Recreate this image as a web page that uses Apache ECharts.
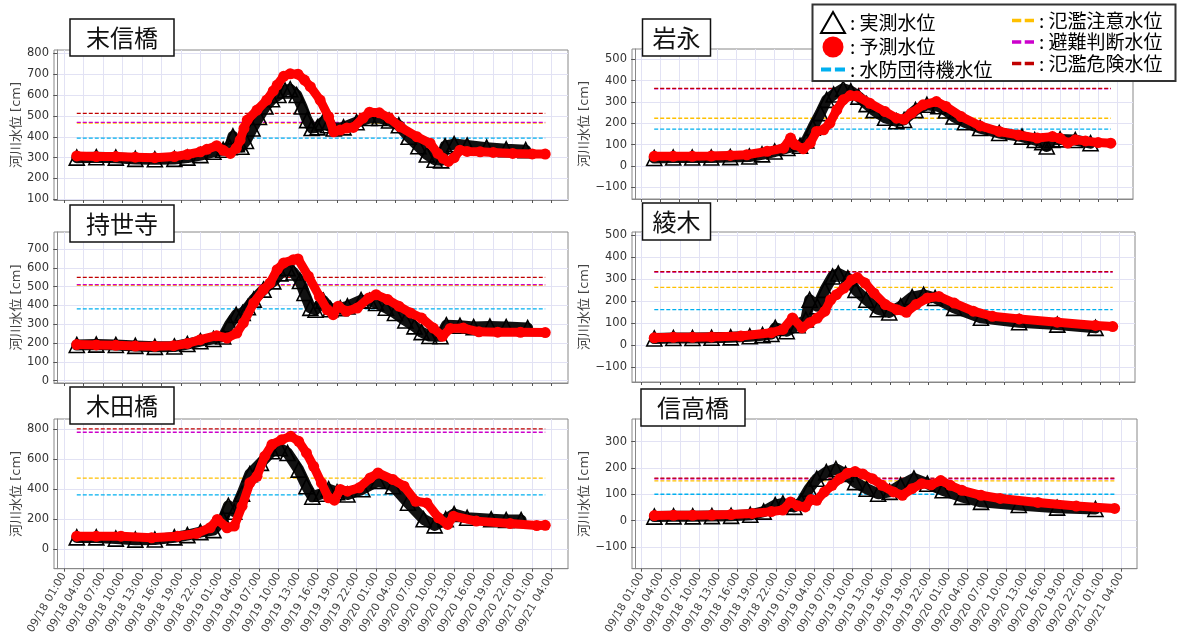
<!DOCTYPE html>
<html>
<head>
<meta charset="utf-8">
<title>河川水位</title>
<script src="https://cdn.jsdelivr.net/npm/echarts@6.0.0/dist/echarts.min.js"></script>
<style>
html, body { margin: 0; padding: 0; background: #fff; }
#chart { width: 1177px; height: 637px; }
</style>
</head>
<body>
<div id="chart"></div>
<script>
// 観測所
var stations = ['末信橋', '岩永', '持世寺', '綾木', '木田橋', '信高橋'];

// 横軸: 09/18 00:00 からの経過時間 [h]
var tickHours = [1, 4, 7, 10, 13, 16, 19, 22, 25, 28, 31, 34, 37, 40, 43, 46, 49, 52, 55, 58, 61, 64, 67, 70, 73, 76];
var tickLabels = [
    '09/18 01:00', '09/18 04:00', '09/18 07:00', '09/18 10:00', '09/18 13:00', '09/18 16:00', '09/18 19:00', '09/18 22:00',
    '09/19 01:00', '09/19 04:00', '09/19 07:00', '09/19 10:00', '09/19 13:00', '09/19 16:00', '09/19 19:00', '09/19 22:00',
    '09/20 01:00', '09/20 04:00', '09/20 07:00', '09/20 10:00', '09/20 13:00', '09/20 16:00', '09/20 19:00', '09/20 22:00',
    '09/21 01:00', '09/21 04:00'
];

var levelNames = ['水防団待機水位', '氾濫注意水位', '避難判断水位', '氾濫危険水位'];

// 末信橋
var suenobuObs = [[3, 300], [6, 302], [9, 300], [12, 294], [15, 292], [18, 294], [20, 300], [22, 312], [24, 328], [25.5, 338], [26.5, 350], [27, 402], [27.6, 365], [28.3, 352], [29, 380], [30, 440], [31, 495], [32, 545], [33, 580], [34, 600], [35, 622], [35.8, 628], [36.8, 600], [37.6, 545], [38.4, 480], [39.1, 442], [40, 445], [40.8, 470], [41.6, 455], [42.5, 440], [44, 445], [46, 470], [48, 490], [49.5, 490], [51, 478], [52.5, 455], [54, 400], [55.5, 355], [56.8, 315], [58, 290], [59, 287], [59.6, 355], [61, 365], [63, 358], [66, 348], [69, 340], [72, 336]];
var suenobuPred = [[3, 308], [6, 305], [9, 305], [12, 302], [15, 300], [18, 305], [20, 315], [22, 328], [23, 340], [24.5, 357], [25.5, 335], [26.6, 320], [27.5, 345], [28.1, 384], [28.7, 440], [29.2, 480], [30.7, 528], [32.2, 576], [33.2, 620], [33.8, 648], [34.8, 690], [35.8, 702], [37, 700], [38, 672], [38.9, 640], [40.4, 576], [41.7, 496], [42.5, 424], [43.5, 432], [44.5, 442], [45.5, 445], [47, 490], [48, 518], [49.5, 515], [51, 490], [52.7, 448], [55.3, 400], [57.3, 369], [58.5, 320], [59.3, 297], [60.1, 282], [61, 300], [61.9, 336], [63, 330], [65, 328], [67, 325], [70, 320], [73, 318], [75, 317]];
var suenobuLevels = [394, 466, 469, 512];
var suenobuTicks = [100, 200, 300, 400, 500, 600, 700, 800];

// 岩永
var iwanagaObs = [[3, 38], [6, 40], [9, 40], [12, 40], [15, 42], [18, 45], [20, 55], [22, 68], [24, 85], [26, 95], [27, 120], [28, 180], [29.2, 248], [30.2, 310], [31.3, 335], [32.8, 362], [34, 350], [35.2, 325], [36.5, 290], [37.6, 262], [39.4, 226], [41.2, 210], [42.4, 216], [44.2, 262], [46, 287], [47.8, 280], [49, 260], [50.2, 232], [52, 205], [54.4, 178], [57.4, 155], [61, 138], [63, 122], [64.2, 112], [64.9, 92], [65.8, 122], [67, 125], [69.4, 122], [71.8, 107]];
var iwanagaPred = [[3, 46], [6, 46], [9, 46], [12, 47], [15, 50], [17.6, 53], [20.8, 69], [23.4, 84], [24.5, 131], [25.2, 100], [26.5, 81], [27.6, 107], [28.6, 162], [29.7, 170], [30.7, 201], [31.8, 263], [32.8, 310], [33.9, 330], [35, 328], [37, 294], [39.4, 255], [41.2, 224], [42.4, 219], [43.6, 248], [45.4, 287], [47.5, 302], [49, 279], [51.4, 232], [54.4, 188], [57.4, 162], [60.4, 146], [63.4, 131], [65.8, 138], [67, 130], [68.2, 108], [69.4, 123], [71, 118], [73, 110], [75, 107]];
var iwanagaLevels = [173, 224, 362, 364];
var iwanagaTicks = [-100, 0, 100, 200, 300, 400, 500];

// 持世寺
var jisejiObs = [[3, 190], [6, 192], [9, 190], [12, 185], [15, 180], [18, 182], [20, 195], [22, 210], [24, 222], [25.5, 235], [26.5, 300], [27.5, 350], [28.5, 360], [29.3, 390], [30.2, 431], [31.7, 484], [33.2, 528], [34.3, 570], [35.4, 598], [36.3, 575], [37.3, 530], [38, 466], [38.9, 387], [39.7, 377], [40.9, 425], [42, 380], [43.5, 385], [44.6, 395], [46.7, 428], [48, 425], [49, 413], [50.5, 388], [51.9, 360], [53.5, 320], [54.9, 289], [56, 258], [57.2, 238], [58.9, 236], [59.8, 295], [61.9, 292], [64, 285], [66.5, 288], [69, 285], [72.3, 280]];
var jisejiPred = [[3, 192], [6, 190], [9, 188], [12, 184], [15, 183], [17.9, 186], [20, 198], [22, 218], [24.5, 239], [26.1, 227], [27.6, 253], [28.6, 307], [30.2, 413], [31.7, 484], [32.7, 519], [33.8, 590], [34.8, 626], [36.3, 643], [37, 647], [38.6, 555], [40.3, 448], [41.5, 377], [42.4, 351], [43.2, 396], [44.4, 369], [46.1, 386], [47.9, 440], [49, 457], [50.8, 431], [52.5, 396], [54.3, 360], [56, 333], [57.8, 280], [59.2, 236], [60.4, 278], [62.4, 280], [64.8, 260], [67.7, 258], [71.2, 257], [75, 256]];
var jisejiLevels = [382, 507, 510, 549];
var jisejiTicks = [0, 100, 200, 300, 400, 500, 600, 700];

// 綾木
var ayagiObs = [[3, 30], [6, 32], [9, 32], [12, 33], [15, 35], [18, 40], [20, 45], [21.4, 50], [22, 78], [23.8, 63], [25.5, 90], [26.8, 116], [27.4, 206], [28.6, 176], [29.8, 251], [31, 312], [31.9, 325], [33.4, 304], [34.6, 251], [36.3, 206], [38.1, 163], [39.9, 148], [41.7, 176], [43.5, 218], [45.3, 228], [47.1, 214], [50.1, 169], [54.3, 124], [60.3, 104], [66.3, 93], [72.3, 78]];
var ayagiPred = [[3, 33], [6, 35], [9, 35], [12, 37], [16.6, 41], [21.4, 56], [23.2, 71], [24.7, 123], [26.2, 78], [27.4, 101], [28.6, 123], [29.8, 154], [30.7, 206], [31.6, 229], [32.8, 259], [34, 297], [34.9, 307], [36.1, 282], [37.5, 236], [39.3, 184], [41.1, 161], [42.6, 149], [44.1, 184], [45.9, 214], [47.7, 221], [50.1, 191], [53.1, 154], [56.1, 131], [60.3, 119], [66.3, 104], [72.3, 89], [75, 84]];
var ayagiLevels = [161, 262, 332, 334];
var ayagiTicks = [-100, 0, 100, 200, 300, 400, 500];

// 木田橋
var kidaObs = [[3, 80], [6, 80], [9, 72], [12, 65], [15, 66], [18, 80], [20, 95], [22, 115], [24, 128], [25.5, 200], [26.3, 290], [27.2, 250], [28.4, 370], [29.6, 500], [31.3, 575], [33, 652], [34.2, 672], [35.4, 640], [37.1, 530], [38.3, 420], [39.2, 350], [40.6, 370], [41.7, 400], [43, 380], [44.6, 365], [46.9, 400], [49.3, 455], [51.6, 420], [53.9, 310], [56.3, 200], [58, 160], [59.7, 200], [61, 235], [63, 210], [66.7, 200], [69, 195], [71.3, 195]];
var kidaPred = [[3, 88], [6, 87], [9.8, 88], [14.5, 77], [18.5, 88], [21.4, 106], [23.5, 144], [24.6, 199], [26.1, 144], [27.2, 155], [28.4, 287], [29.6, 442], [30.7, 486], [31.9, 619], [33, 696], [34.5, 729], [35.9, 751], [37.1, 718], [38.3, 641], [39.4, 552], [40.6, 442], [41.7, 343], [42.6, 327], [43.5, 398], [44.6, 387], [46.4, 409], [48.1, 475], [49.3, 508], [51.6, 464], [53.3, 420], [55.1, 320], [56.8, 309], [58.6, 210], [60, 166], [60.9, 221], [64.4, 188], [69.6, 172], [73.7, 159], [75, 160]];
var kidaLevels = [362, 473, 778, 800];
var kidaTicks = [0, 200, 400, 600, 800];

// 信高橋
var nobutakaObs = [[3, 15], [6, 16], [9, 16], [12, 17], [15, 18], [18, 22], [20.1, 34], [21.9, 59], [23.1, 65], [24.9, 52], [26, 71], [27.2, 121], [28.4, 159], [29.9, 184], [31.4, 196], [32.9, 177], [34.4, 146], [36.2, 121], [38, 102], [39.8, 109], [41.5, 134], [43.6, 160], [45.7, 140], [48.1, 115], [51.1, 90], [54.1, 71], [60, 59], [66, 49], [72, 44]];
var nobutakaPred = [[3, 19], [6, 20], [9, 20], [12, 21], [15, 23], [18.3, 27], [21.3, 34], [23.1, 40], [24.3, 71], [25.4, 56], [26.6, 52], [27.5, 80], [28.4, 77], [29.6, 109], [30.8, 134], [32, 159], [33.2, 180], [34.4, 186], [35.6, 177], [37.1, 159], [38.6, 134], [40.4, 109], [41.8, 96], [43.3, 121], [44.8, 140], [46.3, 136], [47.8, 152], [49.3, 134], [51.1, 115], [54.1, 96], [57.1, 84], [63, 69], [69, 55], [75, 46]];
var nobutakaLevels = [100, 151, 159, 161];
var nobutakaTicks = [-100, 0, 100, 200, 300];

// 各パネルの配置
var panels = [
    { obs: suenobuObs, pred: suenobuPred, levels: suenobuLevels, ticks: suenobuTicks, ymin: 97, ymax: 816,
      left: 54, top: 50, width: 514, height: 150, bottom: false, tl: 70, tt: 19, tp: 16 },
    { obs: iwanagaObs, pred: iwanagaPred, levels: iwanagaLevels, ticks: iwanagaTicks, ymin: -154, ymax: 548,
      left: 632, top: 49, width: 501, height: 150, bottom: false, tl: 642, tt: 19, tp: 10.5 },
    { obs: jisejiObs, pred: jisejiPred, levels: jisejiLevels, ticks: jisejiTicks, ymin: -12, ymax: 790,
      left: 54, top: 232, width: 514, height: 151, bottom: false, tl: 70, tt: 205, tp: 16 },
    { obs: ayagiObs, pred: ayagiPred, levels: ayagiLevels, ticks: ayagiTicks, ymin: -168, ymax: 514,
      left: 632, top: 232, width: 503, height: 150, bottom: false, tl: 642, tt: 203, tp: 10.5 },
    { obs: kidaObs, pred: kidaPred, levels: kidaLevels, ticks: kidaTicks, ymin: -128, ymax: 866,
      left: 54, top: 419, width: 514, height: 150, bottom: true, tl: 70, tt: 387, tp: 16 },
    { obs: nobutakaObs, pred: nobutakaPred, levels: nobutakaLevels, ticks: nobutakaTicks, ymin: -183, ymax: 386,
      left: 632, top: 419, width: 505, height: 151, bottom: true, tl: 641, tt: 389, tp: 16 }
];

var levelColors = ['#00b0f0', '#ffc000', '#cc00cc', '#c00000'];
var latinFont = "'DejaVu Sans', 'Noto Sans CJK JP'";
var cjkFont = "'Noto Sans CJK JP'";
var dashIcon = 'path://M0,0H8V3H0Z M11,0H19V3H11Z';

function fmtY(v) {
    return v < 0 ? '\u2212' + Math.abs(v) : String(v);
}

function fmtX(v) {
    var idx = tickHours.indexOf(Math.round(v));
    return idx < 0 ? '' : tickLabels[idx];
}

function buildOption() {
    var grids = [], xAxes = [], yAxes = [], series = [], titles = [];

    panels.forEach(function (p, i) {
        grids.push({
            left: p.left, top: p.top, width: p.width, height: p.height,
            show: true, borderColor: '#888', borderWidth: 1, backgroundColor: '#fff'
        });
        xAxes.push({
            type: 'value', gridIndex: i, min: -0.5, max: 78.5,
            axisLine: { show: true, onZero: false, lineStyle: { color: '#888' } },
            axisTick: { show: true, customValues: tickHours, length: 3, lineStyle: { color: '#555' } },
            axisLabel: {
                show: p.bottom, customValues: tickHours, rotate: 60, margin: 5,
                fontSize: 11, color: '#444', fontFamily: latinFont, formatter: fmtX
            },
            splitLine: { show: true, lineStyle: { color: '#e2e2f4', width: 1 } }
        });
        yAxes.push({
            type: 'value', gridIndex: i, min: p.ymin, max: p.ymax,
            name: '河川水位 [cm]', nameLocation: 'middle', nameGap: i % 2 === 0 ? 30 : 38,
            nameTextStyle: { fontSize: 13, color: '#444', fontFamily: latinFont },
            axisLine: { show: true, lineStyle: { color: '#888' } },
            axisTick: { show: true, customValues: p.ticks, length: 4, lineStyle: { color: '#555' } },
            axisLabel: {
                customValues: p.ticks, margin: 5, fontSize: 11.5, color: '#333',
                fontFamily: latinFont, formatter: fmtY
            },
            splitLine: { show: true, lineStyle: { color: '#e2e2f4', width: 1 } }
        });
        titles.push({
            text: stations[i], left: p.tl, top: p.tt,
            padding: [6, p.tp], backgroundColor: '#fff', borderColor: '#111', borderWidth: 1.5,
            textStyle: { fontSize: 24, lineHeight: 25, fontWeight: 'normal', color: '#111', fontFamily: cjkFont }
        });

        // 基準水位（データ期間の範囲だけ）
        var x0 = p.pred[0][0];
        var x1 = p.pred[p.pred.length - 1][0];
        levelNames.forEach(function (name, k) {
            series.push({
                name: name, type: 'line', xAxisIndex: i, yAxisIndex: i, z: 1,
                silent: true, symbol: 'none', color: levelColors[k],
                lineStyle: { color: levelColors[k], width: 1.3, type: [4, 2] },
                data: [[x0, p.levels[k]], [x1, p.levels[k]]]
            });
        });

        // 実測水位（三角マーカーが重なった太い帯）
        series.push({
            name: '実測水位', type: 'line', xAxisIndex: i, yAxisIndex: i, z: 2,
            color: '#000', symbol: 'triangle', symbolSize: 15, showAllSymbol: true,
            itemStyle: { color: 'rgba(0,0,0,0)', borderColor: '#000', borderWidth: 1.6 },
            lineStyle: { color: '#111', width: 11, cap: 'round', join: 'round' },
            data: p.obs
        });
        // 予測水位
        series.push({
            name: '予測水位', type: 'line', xAxisIndex: i, yAxisIndex: i, z: 3,
            color: '#ff0000', symbol: 'circle', symbolSize: 11, showAllSymbol: true,
            itemStyle: { color: '#ff0000' },
            lineStyle: { color: '#ff0000', width: 9, cap: 'round', join: 'round' },
            data: p.pred
        });
    });

    var legendText = { fontSize: 19, color: '#000', fontFamily: cjkFont };
    var legendFmt = function (name) { return ': ' + name; };

    return {
        animation: false,
        backgroundColor: '#fff',
        title: titles,
        grid: grids,
        xAxis: xAxes,
        yAxis: yAxes,
        series: series,
        legend: [
            {
                left: 820, top: 11, orient: 'vertical', padding: 0, z: 60,
                itemWidth: 24, itemHeight: 21, itemGap: 2.5, selectedMode: false,
                textStyle: legendText, formatter: legendFmt,
                data: [
                    { name: '実測水位', icon: 'triangle', itemStyle: { color: '#fff', borderColor: '#000', borderWidth: 2 } },
                    { name: '予測水位', icon: 'circle', itemStyle: { color: '#ff0000', borderWidth: 0 } },
                    { name: levelNames[0], icon: dashIcon, itemStyle: { color: levelColors[0], borderWidth: 0 } }
                ]
            },
            {
                left: 1012, top: 11, orient: 'vertical', padding: 0, z: 60,
                itemWidth: 22, itemHeight: 21, itemGap: 2.5, selectedMode: false,
                textStyle: legendText, formatter: legendFmt,
                data: [
                    { name: levelNames[1], icon: dashIcon, itemStyle: { color: levelColors[1], borderWidth: 0 } },
                    { name: levelNames[2], icon: dashIcon, itemStyle: { color: levelColors[2], borderWidth: 0 } },
                    { name: levelNames[3], icon: dashIcon, itemStyle: { color: levelColors[3], borderWidth: 0 } }
                ]
            }
        ],
        graphic: [
            {
                type: 'rect', z: 50, silent: true,
                shape: { x: 812.5, y: 4.5, width: 363, height: 76.5 },
                style: { fill: '#fff', stroke: '#333', lineWidth: 2 }
            }
        ]
    };
}

var chart = echarts.init(document.getElementById('chart'));
chart.setOption(buildOption());
</script>
</body>
</html>
